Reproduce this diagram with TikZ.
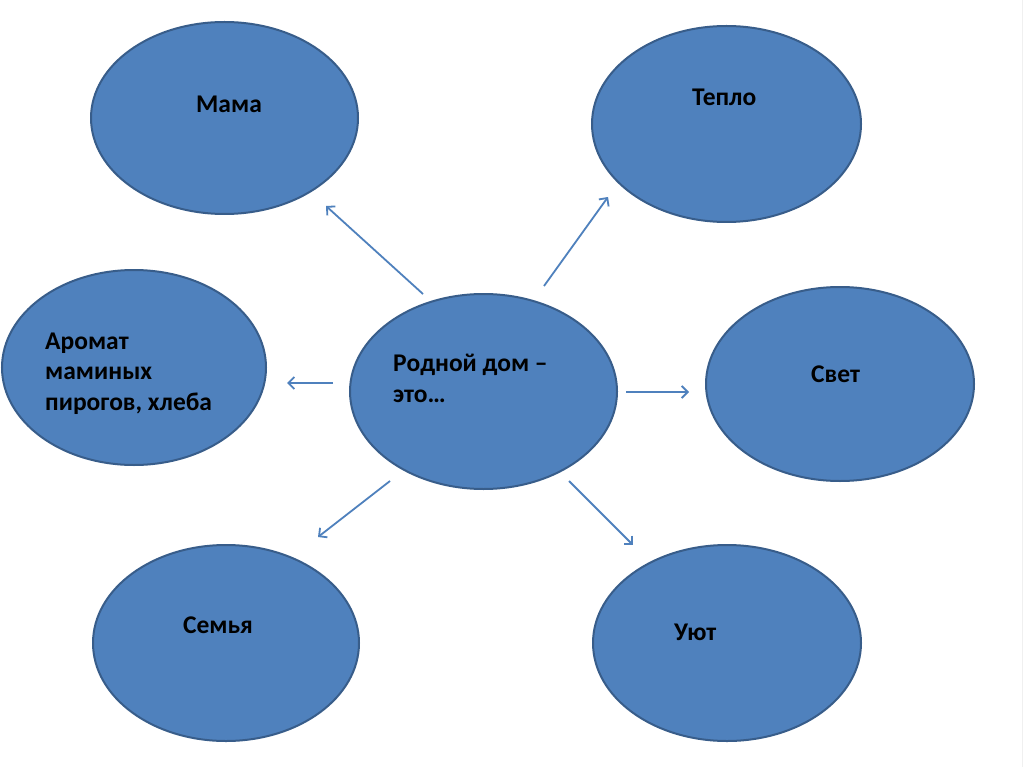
\documentclass[tikz,border=0pt]{standalone}
\usepackage{fontspec}
\setmainfont{Carlito}
\usetikzlibrary{shapes.geometric,arrows.meta}
\definecolor{bfill}{HTML}{4F81BD}
\definecolor{bline}{HTML}{385D8A}
\begin{document}
\begin{tikzpicture}[x=1pt,y=-1pt,
  oval/.style={ellipse,draw=bline,line width=2pt,fill=bfill,inner sep=0pt},
  lbl/.style={inner sep=0pt,anchor=base west,align=left,font=\fontsize{25.5}{30.5}\selectfont\bfseries,text=black},
  conn/.style={draw=bfill,line width=1.8pt,-{Straight Barb[length=6pt,width=12pt]}}]
\useasboundingbox (0,0) rectangle (1024,767);
\fill[white] (0,0) rectangle (1024,767);
\draw[black!6,line width=1pt] (1022,0) -- (1022,767);
% ovals
\node[oval,minimum width=267pt,minimum height=192pt] (mama) at (224.5,118) {};
\node[oval,minimum width=269pt,minimum height=196pt] (teplo) at (726.5,124) {};
\node[oval,minimum width=264pt,minimum height=195pt] (aromat) at (134,367.5) {};
\node[oval,minimum width=267pt,minimum height=195pt] (dom) at (483.5,391.5) {};
\node[oval,minimum width=268pt,minimum height=194pt] (svet) at (840,384) {};
\node[oval,minimum width=266pt,minimum height=196pt] (semya) at (226,643) {};
\node[oval,minimum width=268pt,minimum height=196pt] (uyut) at (727,643) {};
% labels
\node[lbl] (tmama) at (196,113) {Мама};
\node[lbl] (tteplo) at (692,106) {Тепло};
\node[lbl] (taromat) at (45,410) {Аромат\\маминых\\пирогов, хлеба};
\node[lbl] (tdom) at (393,402) {Родной дом –\\это…};
\node[lbl] (tsvet) at (811,382) {Свет};
\node[lbl] (tsemya) at (183,633) {Семья};
\node[lbl] (tuyut) at (674,640) {Уют};
% connector ends
\coordinate (a1) at (423,294); \coordinate (b1) at (326,206);
\coordinate (a2) at (544,286); \coordinate (b2) at (608,197);
\coordinate (a3) at (333,383); \coordinate (b3) at (287,383);
\coordinate (a4) at (626,392); \coordinate (b4) at (689,392);
\coordinate (a5) at (390,481); \coordinate (b5) at (318,537);
\coordinate (a6) at (569,481); \coordinate (b6) at (633,545);
\draw[conn] (a1) -- (b1);
\draw[conn] (a2) -- (b2);
\draw[conn] (a3) -- (b3);
\draw[conn] (a4) -- (b4);
\draw[conn] (a5) -- (b5);
\draw[conn] (a6) -- (b6);
\end{tikzpicture}
\end{document}
